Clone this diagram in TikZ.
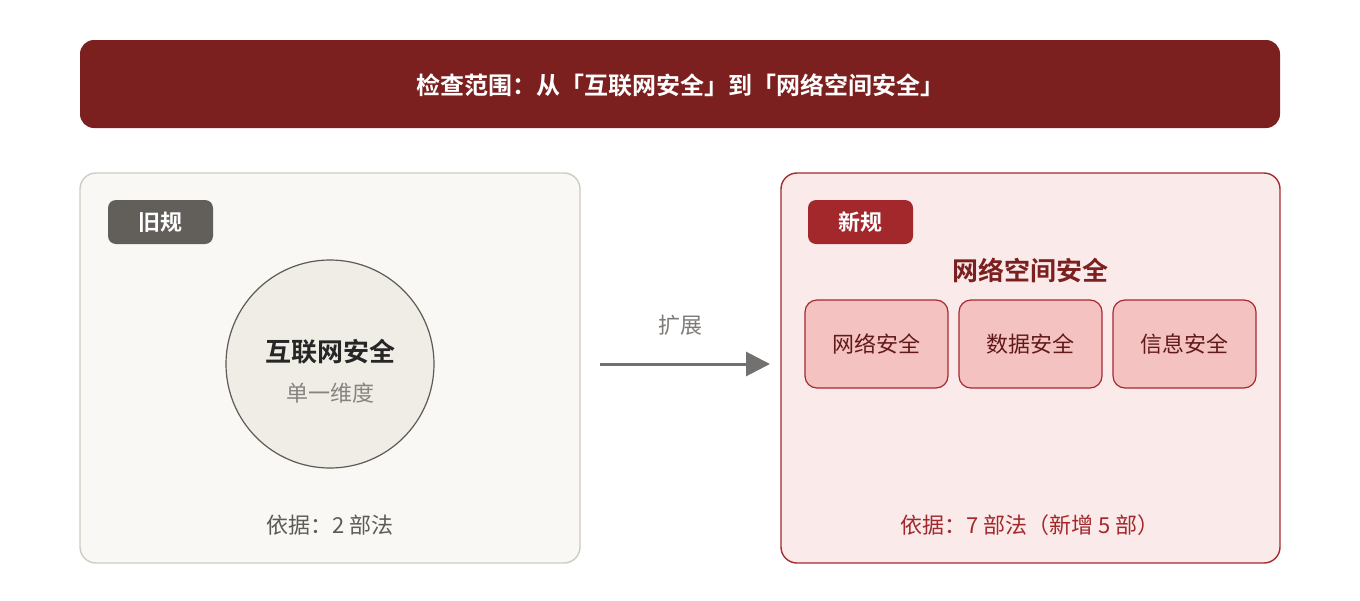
\documentclass[tikz,border=0pt]{standalone}
\usepackage{fontspec}
\setmainfont{Noto Sans CJK SC}[BoldFont={Noto Sans CJK SC Bold}]
\usetikzlibrary{arrows.meta, positioning}
\definecolor{darkred}{HTML}{7B1F1F}
\definecolor{midred}{HTML}{A3282C}
\definecolor{edgered}{HTML}{A8282E}
\definecolor{pinkbg}{HTML}{FBEAEA}
\definecolor{pinkbox}{HTML}{F5C2C2}
\definecolor{oldbg}{HTML}{F9F8F4}
\definecolor{oldedge}{HTML}{CFCBC0}
\definecolor{oldtag}{HTML}{625F5A}
\definecolor{circfill}{HTML}{F0EDE6}
\definecolor{greytext}{HTML}{5E5A55}
\tikzset{
  panel/.style={draw, line width=0.7pt, rounded corners=8pt},
  tag/.style={rounded corners=4pt, text=white, font=\fontsize{11}{13}\selectfont\bfseries,
      minimum width=52.5pt, minimum height=22pt, inner sep=0pt},
  subbox/.style={draw=edgered, fill=pinkbox, line width=0.6pt, rounded corners=6pt,
      minimum width=71.5pt, minimum height=44pt, text=darkred!80!black,
      font=\fontsize{11}{13}\selectfont}
}
\begin{document}
\begin{tikzpicture}[x=0.5pt, y=-0.5pt]
\useasboundingbox (0,0) rectangle (1360,600);

% header
\fill[darkred, rounded corners=7pt] (80,40) rectangle (1280,128);
\node[text=white, font=\fontsize{12}{14}\selectfont\bfseries] (title) at (680,85)
  {检查范围：从「互联网安全」到「网络空间安全」};

% old panel
\draw[panel, draw=oldedge, fill=oldbg] (80,173) rectangle (580,563);
\node[tag, fill=oldtag] (oldtag) at (160.5,222) {旧规};
\node[circle, draw=greytext, fill=circfill, line width=0.6pt, minimum size=208pt*0.5] (net) at (330,364) {};
\node[font=\fontsize{13}{15}\selectfont\bfseries, text=black!85] (nettext) at (330,352) {互联网安全};
\node[font=\fontsize{11}{13}\selectfont, text=greytext!75, below=2pt of nettext] (single) {单一维度};
\node[font=\fontsize{11}{13}\selectfont, text=greytext] (oldlaw) at (330,525) {依据：2 部法};

% arrow
\coordinate (arrA) at (600,364);
\coordinate (arrB) at (770,364);
\draw[-{Triangle[length=12pt, width=12pt]}, line width=1.5pt, draw=black!45!oldtag!70] (arrA) -- (arrB);
\node[font=\fontsize{11}{13}\selectfont, text=greytext!80] (expand) at (680,325) {扩展};

% new panel
\draw[panel, draw=edgered, fill=pinkbg] (781,173) rectangle (1280,563);
\node[tag, fill=midred] (newtag) at (860.5,222) {新规};
\node[font=\fontsize{13}{15}\selectfont\bfseries, text=darkred] (cyber) at (1030,270) {网络空间安全};
\foreach \idx/\cx/\lab in {1/876.5/网络安全, 2/1030.5/数据安全, 3/1184.5/信息安全}{
  \node[subbox] (sub\idx) at (\cx,344) {\lab};
}
\node[font=\fontsize{11}{13}\selectfont, text=midred] (newlaw) at (1030,525) {依据：7 部法（新增 5 部）};
\end{tikzpicture}
\end{document}
